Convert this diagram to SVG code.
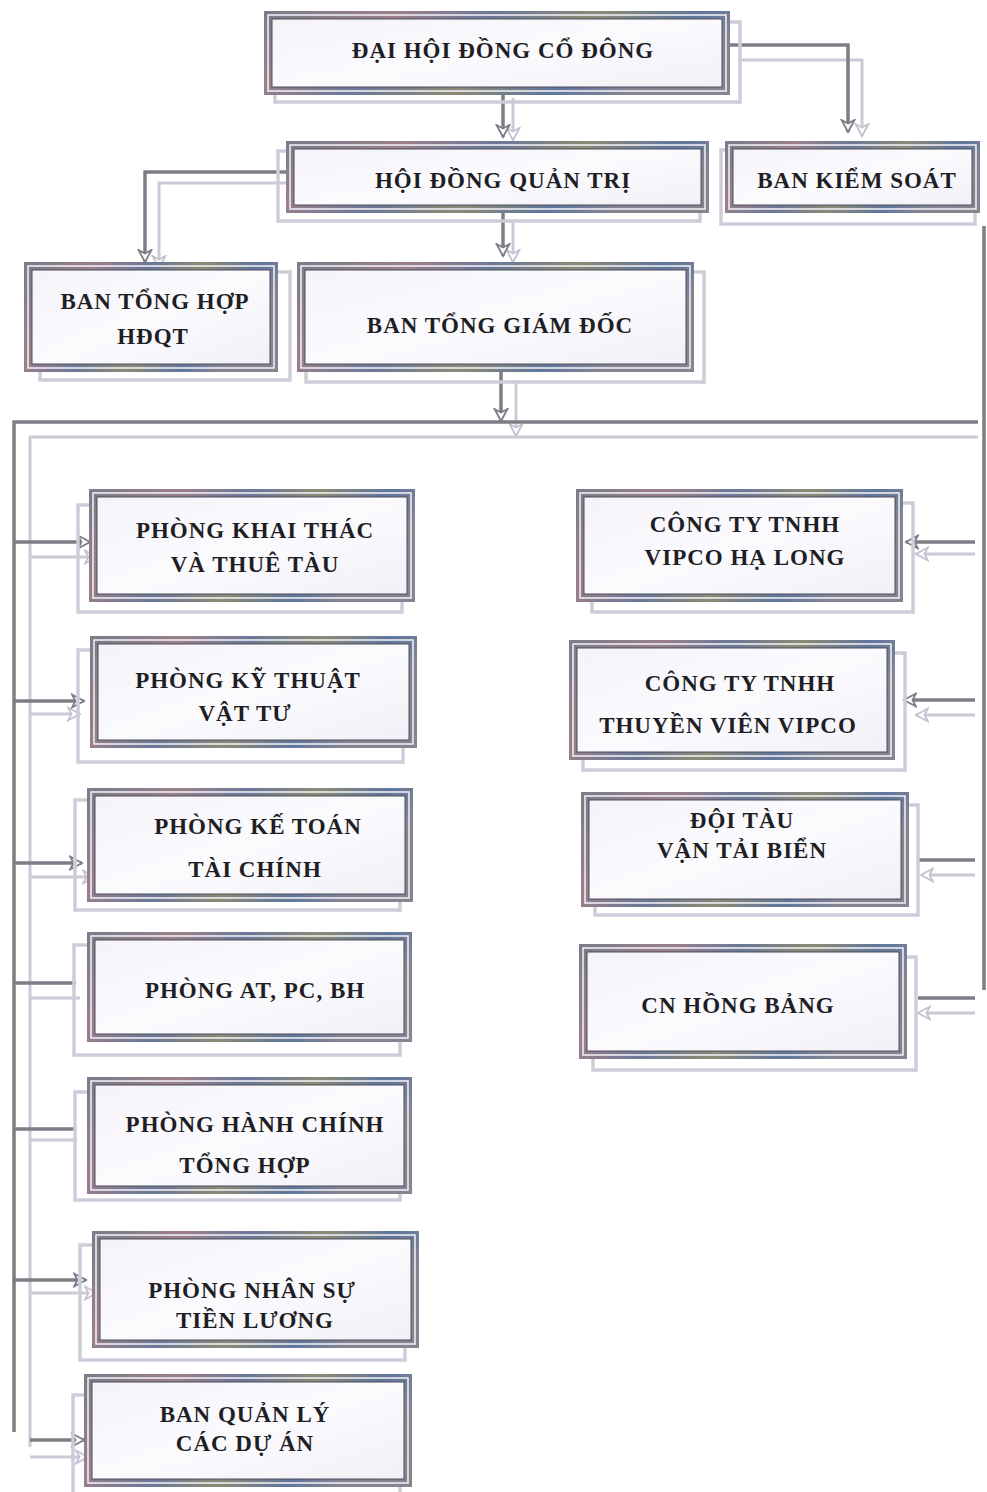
<svg xmlns="http://www.w3.org/2000/svg" width="987" height="1492" viewBox="0 0 987 1492">
<style>
  .ghost{fill:none;stroke:#cfccda;stroke-width:3.5}
  .frame{fill:url(#fill);stroke:url(#fr);stroke-width:8}
  .inner{fill:none;stroke:#eeedf3;stroke-width:1.6}
  .edge{fill:none;stroke:#4c4f5c;stroke-width:1}
  .t{font-family:"Liberation Serif","Times New Roman",serif;font-weight:bold;font-size:23px;letter-spacing:1px;fill:#1e1e24;text-anchor:middle}
  .d{fill:none;stroke:#7d7d86;stroke-width:3.5}
  .l{fill:none;stroke:#cdcad8;stroke-width:3}
</style>
<defs>
  <linearGradient id="fr" x1="0" y1="0" x2="1" y2="0.3">
    <stop offset="0" stop-color="#7b7d88"/>
    <stop offset="0.25" stop-color="#9b7f8a"/>
    <stop offset="0.45" stop-color="#6a7898"/>
    <stop offset="0.65" stop-color="#8c8a74"/>
    <stop offset="0.85" stop-color="#5f769c"/>
    <stop offset="1" stop-color="#858592"/>
  </linearGradient>
  <linearGradient id="fill" x1="0" y1="0" x2="1" y2="1">
    <stop offset="0" stop-color="#f5f3f8"/>
    <stop offset="0.5" stop-color="#fbfafd"/>
    <stop offset="1" stop-color="#f1f0f6"/>
  </linearGradient>
  <marker id="ad" markerUnits="userSpaceOnUse" markerWidth="16" markerHeight="16" refX="13" refY="8" orient="auto">
    <path d="M1,1.5 L13,8 L1,14.5 L4.5,8 Z" fill="#ffffff" stroke="#7d7d86" stroke-width="1.8"/>
  </marker>
  <marker id="al" markerUnits="userSpaceOnUse" markerWidth="16" markerHeight="16" refX="13" refY="8" orient="auto">
    <path d="M1,1.5 L13,8 L1,14.5 L4.5,8 Z" fill="#ffffff" stroke="#c4c1d0" stroke-width="1.8"/>
  </marker>
</defs>
<rect width="987" height="1492" fill="#ffffff"/>

<g id="connectors">
  <path class="l" d="M513,98 V140" marker-end="url(#al)"/>
  <path class="d" d="M503,92 V137" marker-end="url(#ad)"/>
  <path class="l" d="M738,60 H862 V136" marker-end="url(#al)"/>
  <path class="d" d="M728,45 H848 V132" marker-end="url(#ad)"/>
  <path class="l" d="M287,183 H159 V268" marker-end="url(#al)"/>
  <path class="d" d="M287,172 H145 V262" marker-end="url(#ad)"/>
  <path class="l" d="M513,222 V262" marker-end="url(#al)"/>
  <path class="d" d="M503,211 V256" marker-end="url(#ad)"/>
  <path class="l" d="M516,383 V436" marker-end="url(#al)"/>
  <path class="d" d="M501,370 V421" marker-end="url(#ad)"/>
  <path class="l" d="M30,1447 V437 H978"/>
  <path class="d" d="M14,1432 V422 H978"/>
  <path class="d" d="M984,226 V990"/>
  <path class="l" d="M30,557 H97" marker-end="url(#al)"/>
  <path class="d" d="M14,542 H90" marker-end="url(#ad)"/>
  <path class="l" d="M30,714 H80" marker-end="url(#al)"/>
  <path class="d" d="M14,701 H84" marker-end="url(#ad)"/>
  <path class="l" d="M30,877 H95" marker-end="url(#al)"/>
  <path class="d" d="M14,863 H82" marker-end="url(#ad)"/>
  <path class="l" d="M30,998 H80"/>
  <path class="d" d="M14,983 H76"/>
  <path class="l" d="M30,1140 H77"/>
  <path class="d" d="M14,1129 H75"/>
  <path class="l" d="M30,1293 H97" marker-end="url(#al)"/>
  <path class="d" d="M14,1280 H86" marker-end="url(#ad)"/>
  <path class="l" d="M30,1457 H88" marker-end="url(#al)"/>
  <path class="d" d="M30,1440 H84" marker-end="url(#ad)"/>
  <path class="l" d="M975,554 H916" marker-end="url(#al)"/>
  <path class="d" d="M975,542 H906" marker-end="url(#ad)"/>
  <path class="l" d="M975,715 H916" marker-end="url(#al)"/>
  <path class="d" d="M975,700 H904" marker-end="url(#ad)"/>
  <path class="l" d="M975,875 H921" marker-end="url(#al)"/>
  <path class="d" d="M975,860 H919"/>
  <path class="l" d="M975,1013 H918" marker-end="url(#al)"/>
  <path class="d" d="M975,998 H918"/>
</g>

<g id="n-dhdcd">
  <rect class="ghost" x="275" y="22" width="465" height="80"/>
  <rect class="frame" x="268" y="15" width="458" height="76"/>
  <rect class="inner" x="268" y="15" width="458" height="76"/>
  <rect class="edge" x="272" y="19" width="450" height="68"/>
  <text class="t" x="503" y="58">ĐẠI HỘI ĐỒNG CỔ ĐÔNG</text>
</g>

<g id="n-hdqt">
  <rect class="ghost" x="278" y="151" width="422" height="70"/>
  <rect class="frame" x="290" y="145" width="415" height="64"/>
  <rect class="inner" x="290" y="145" width="415" height="64"/>
  <rect class="edge" x="294" y="149" width="407" height="56"/>
  <text class="t" x="503" y="188">HỘI ĐỒNG QUẢN TRỊ</text>
</g>

<g id="n-bks">
  <rect class="ghost" x="721" y="150" width="254" height="74"/>
  <rect class="frame" x="729" y="145" width="247" height="64"/>
  <rect class="inner" x="729" y="145" width="247" height="64"/>
  <rect class="edge" x="733" y="149" width="239" height="56"/>
  <text class="t" x="857" y="188">BAN KIỂM SOÁT</text>
</g>

<g id="n-bthhdqt">
  <rect class="ghost" x="40" y="272" width="250" height="108"/>
  <rect class="frame" x="28" y="266" width="246" height="102"/>
  <rect class="inner" x="28" y="266" width="246" height="102"/>
  <rect class="edge" x="32" y="270" width="238" height="94"/>
  <text class="t" x="155" y="309">BAN TỔNG HỢP</text>
  <text class="t" x="153" y="344">HĐQT</text>
</g>

<g id="n-btgd">
  <rect class="ghost" x="306" y="272" width="398" height="110"/>
  <rect class="frame" x="301" y="266" width="389" height="102"/>
  <rect class="inner" x="301" y="266" width="389" height="102"/>
  <rect class="edge" x="305" y="270" width="381" height="94"/>
  <text class="t" x="500" y="333">BAN TỔNG GIÁM ĐỐC</text>
</g>

<g id="n-khaithac">
  <rect class="ghost" x="78" y="505" width="324" height="107"/>
  <rect class="frame" x="93" y="493" width="318" height="105"/>
  <rect class="inner" x="93" y="493" width="318" height="105"/>
  <rect class="edge" x="97" y="497" width="310" height="97"/>
  <text class="t" x="255" y="538">PHÒNG KHAI THÁC</text>
  <text class="t" x="255" y="572">VÀ THUÊ TÀU</text>
</g>

<g id="n-kythuat">
  <rect class="ghost" x="78" y="650" width="325" height="112"/>
  <rect class="frame" x="94" y="640" width="319" height="104"/>
  <rect class="inner" x="94" y="640" width="319" height="104"/>
  <rect class="edge" x="98" y="644" width="311" height="96"/>
  <text class="t" x="248" y="688">PHÒNG KỸ THUẬT</text>
  <text class="t" x="245" y="721">VẬT TƯ</text>
</g>

<g id="n-ketoan">
  <rect class="ghost" x="75" y="800" width="325" height="110"/>
  <rect class="frame" x="91" y="792" width="318" height="106"/>
  <rect class="inner" x="91" y="792" width="318" height="106"/>
  <rect class="edge" x="95" y="796" width="310" height="98"/>
  <text class="t" x="258" y="834">PHÒNG KẾ TOÁN</text>
  <text class="t" x="255" y="877">TÀI CHÍNH</text>
</g>

<g id="n-atpcbh">
  <rect class="ghost" x="74" y="945" width="326" height="110"/>
  <rect class="frame" x="91" y="936" width="317" height="102"/>
  <rect class="inner" x="91" y="936" width="317" height="102"/>
  <rect class="edge" x="95" y="940" width="309" height="94"/>
  <text class="t" x="255" y="998">PHÒNG AT, PC, BH</text>
</g>

<g id="n-hanhchinh">
  <rect class="ghost" x="75" y="1092" width="325" height="108"/>
  <rect class="frame" x="91" y="1081" width="317" height="109"/>
  <rect class="inner" x="91" y="1081" width="317" height="109"/>
  <rect class="edge" x="95" y="1085" width="309" height="101"/>
  <text class="t" x="255" y="1132">PHÒNG HÀNH CHÍNH</text>
  <text class="t" x="245" y="1173">TỔNG HỢP</text>
</g>

<g id="n-nhansu">
  <rect class="ghost" x="80" y="1245" width="325" height="115"/>
  <rect class="frame" x="96" y="1235" width="319" height="109"/>
  <rect class="inner" x="96" y="1235" width="319" height="109"/>
  <rect class="edge" x="100" y="1239" width="311" height="101"/>
  <text class="t" x="252" y="1298">PHÒNG NHÂN SỰ</text>
  <text class="t" x="255" y="1328">TIỀN LƯƠNG</text>
</g>

<g id="n-banqly">
  <rect class="ghost" x="73" y="1395" width="327" height="100"/>
  <rect class="frame" x="88" y="1378" width="320" height="105"/>
  <rect class="inner" x="88" y="1378" width="320" height="105"/>
  <rect class="edge" x="92" y="1382" width="312" height="97"/>
  <text class="t" x="245" y="1422">BAN QUẢN LÝ</text>
  <text class="t" x="245" y="1451">CÁC DỰ ÁN</text>
</g>

<g id="n-halong">
  <rect class="ghost" x="592" y="503" width="321" height="109"/>
  <rect class="frame" x="580" y="493" width="319" height="105"/>
  <rect class="inner" x="580" y="493" width="319" height="105"/>
  <rect class="edge" x="584" y="497" width="311" height="97"/>
  <text class="t" x="745" y="532">CÔNG TY TNHH</text>
  <text class="t" x="745" y="565">VIPCO HẠ LONG</text>
</g>

<g id="n-thuyenvien">
  <rect class="ghost" x="583" y="653" width="322" height="117"/>
  <rect class="frame" x="573" y="644" width="318" height="112"/>
  <rect class="inner" x="573" y="644" width="318" height="112"/>
  <rect class="edge" x="577" y="648" width="310" height="104"/>
  <text class="t" x="740" y="691">CÔNG TY TNHH</text>
  <text class="t" x="728" y="733">THUYỀN VIÊN VIPCO</text>
</g>

<g id="n-doitau">
  <rect class="ghost" x="595" y="805" width="323" height="110"/>
  <rect class="frame" x="585" y="796" width="320" height="107"/>
  <rect class="inner" x="585" y="796" width="320" height="107"/>
  <rect class="edge" x="589" y="800" width="312" height="99"/>
  <text class="t" x="742" y="828">ĐỘI TÀU</text>
  <text class="t" x="742" y="858">VẬN TẢI BIỂN</text>
</g>

<g id="n-hongbang">
  <rect class="ghost" x="593" y="957" width="323" height="113"/>
  <rect class="frame" x="583" y="948" width="320" height="107"/>
  <rect class="inner" x="583" y="948" width="320" height="107"/>
  <rect class="edge" x="587" y="952" width="312" height="99"/>
  <text class="t" x="738" y="1013">CN HỒNG BẢNG</text>
</g>
</svg>
